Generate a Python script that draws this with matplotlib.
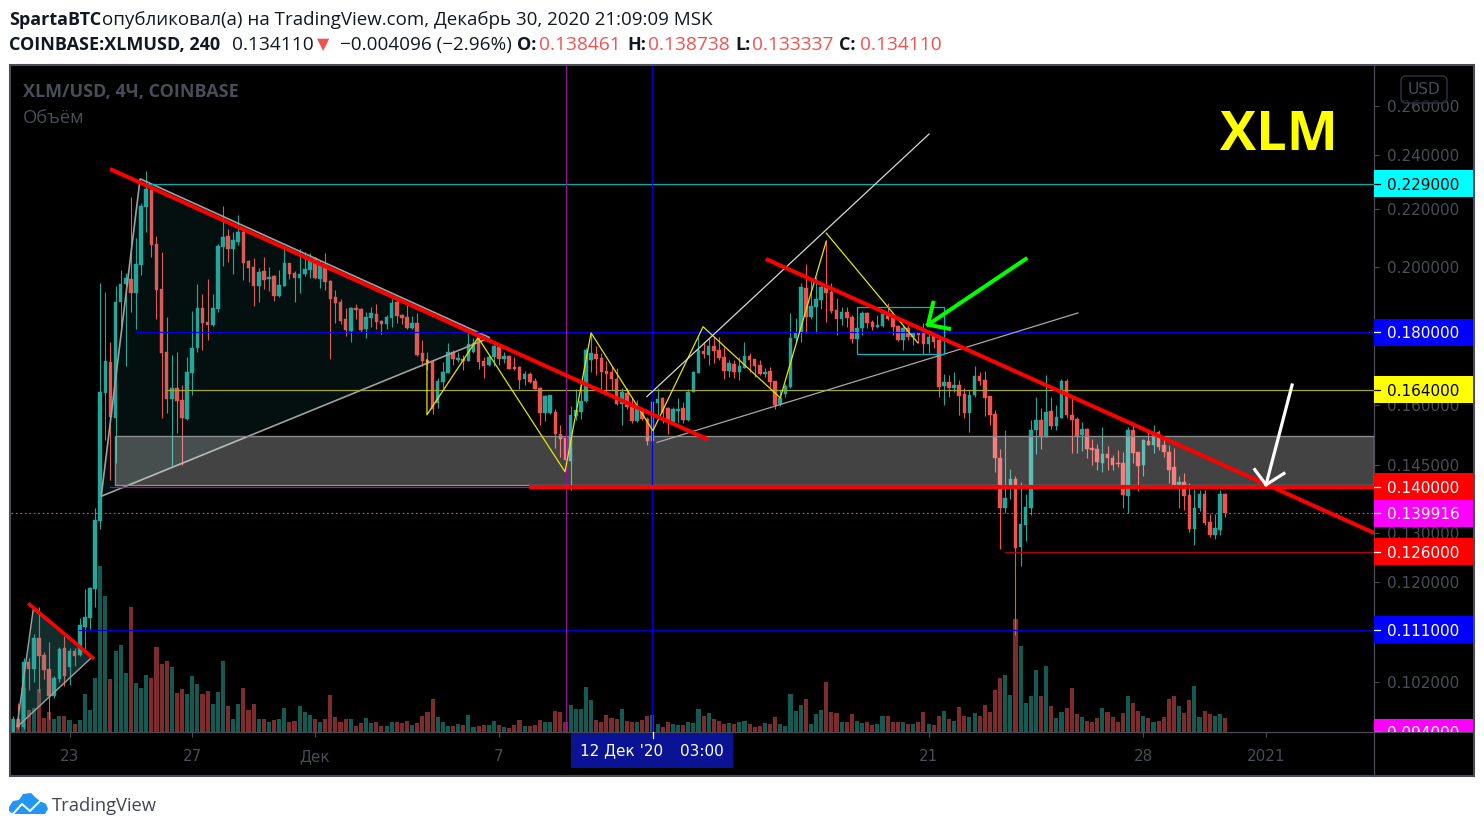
import numpy as np
import matplotlib
matplotlib.use("Agg")
import matplotlib.pyplot as plt
from matplotlib.patches import Rectangle, Polygon, FancyBboxPatch
from matplotlib.lines import Line2D
from matplotlib.ticker import FixedLocator, FixedFormatter, NullLocator, NullFormatter
from matplotlib.transforms import IdentityTransform

# ---------------- data ----------------
opens = [.0938,.0961,.0948,.1054,.1042,.1096,.1066,.1042,.0997,.1025,
.1078,.1045,.1073,.1066,.1116,.1132,.1186,.1324,.1631,.1715,
.1566,.1891,.1946,.1962,.1919,.2008,.2206,.2267,.2077,.1931,
.1744,.1616,.1644,.1613,.1564,.1685,.1755,.1872,.1830,.1822,
.1869,.2067,.2104,.2060,.2083,.2118,.2020,.2001,.1940,.1988,
.1962,.1972,.1909,.1940,.2014,.1981,.1965,.1978,.1991,.2030,
.1962,.2008,.1956,.1906,.1891,.1839,.1804,.1872,.1869,.1810,
.1842,.1854,.1833,.1824,.1842,.1891,.1851,.1845,.1813,.1827,
.1741,.1721,.1718,.1605,.1660,.1685,.1744,.1721,.1724,.1718,
.1744,.1781,.1718,.1707,.1729,.1758,.1724,.1732,.1701,.1701,
.1669,.1682,.1663,.1644,.1579,.1579,.1582,.1526,.1517,.1461,
.1571,.1582,.1610,.1721,.1738,.1727,.1690,.1688,.1669,.1603,
.1631,.1595,.1559,.1587,.1564,.1509,.1605,.1618,.1592,.1556,
.1585,.1592,.1561,.1634,.1685,.1746,.1735,.1761,.1749,.1729,
.1690,.1710,.1688,.1699,.1732,.1724,.1707,.1682,.1690,.1663,
.1603,.1629,.1647,.1784,.1798,.1934,.1845,.1875,.1897,.1940,
.1922,.1866,.1839,.1860,.1845,.1781,.1813,.1857,.1830,.1816,
.1819,.1857,.1842,.1819,.1778,.1813,.1787,.1798,.1798,.1766,
.1792,.1778,.1650,.1660,.1644,.1652,.1629,.1579,.1626,.1677,
.1666,.1623,.1577,.1468,.1352,.1403,.1419,.1269,.1316,.1354,
.1536,.1561,.1519,.1585,.1546,.1566,.1663,.1574,.1564,.1524,
.1539,.1492,.1489,.1456,.1477,.1468,.1456,.1456,.1379,.1536,
.1482,.1451,.1509,.1499,.1531,.1499,.1482,.1445,.1403,.1412,
.1381,.1307,.1352,.1385,.1322,.1296,.1305,.1385]
highs = [.0966,.0986,.1061,.1061,.1103,.1152,.1071,.1089,.1030,.1080,
.1099,.1078,.1078,.1132,.1186,.1190,.1352,.1950,.1922,.1772,
.1940,.1991,.1981,.2242,.2097,.2220,.2338,.2286,.2104,.2050,
.1845,.1735,.1744,.1652,.1729,.1863,.1946,.1916,.1962,.1916,
.2077,.2209,.2128,.2118,.2177,.2135,.2024,.2030,.1997,.2034,
.2001,.1975,.1991,.2060,.2014,.1988,.2060,.2050,.2047,.2034,
.2024,.2047,.1959,.1928,.1900,.1872,.1875,.1885,.1872,.1860,
.1875,.1885,.1836,.1851,.1900,.1900,.1854,.1881,.1848,.1857,
.1778,.1744,.1721,.1671,.1715,.1769,.1749,.1744,.1735,.1798,
.1784,.1787,.1729,.1735,.1766,.1761,.1744,.1735,.1729,.1704,
.1690,.1688,.1671,.1647,.1626,.1626,.1590,.1549,.1519,.1597,
.1642,.1652,.1755,.1798,.1761,.1741,.1718,.1704,.1699,.1644,
.1644,.1621,.1613,.1595,.1569,.1639,.1644,.1621,.1595,.1595,
.1618,.1608,.1642,.1690,.1787,.1772,.1784,.1787,.1787,.1758,
.1721,.1721,.1729,.1772,.1741,.1724,.1721,.1699,.1701,.1663,
.1639,.1655,.1857,.1842,.1950,.2011,.1959,.1969,.1953,.2087,
.1950,.1903,.1875,.1875,.1851,.1830,.1863,.1860,.1836,.1851,
.1857,.1888,.1845,.1822,.1822,.1822,.1801,.1798,.1827,.1801,
.1801,.1787,.1682,.1680,.1688,.1666,.1644,.1639,.1704,.1688,
.1690,.1623,.1587,.1489,.1536,.1442,.1424,.1412,.1385,.1561,
.1621,.1592,.1680,.1621,.1600,.1669,.1669,.1618,.1569,.1556,
.1541,.1514,.1502,.1544,.1497,.1475,.1487,.1482,.1544,.1556,
.1482,.1514,.1536,.1549,.1536,.1521,.1499,.1492,.1424,.1433,
.1410,.1396,.1392,.1392,.1339,.1339,.1394,.1387]
lows = [.0938,.0945,.0945,.1007,.1020,.1004,.1025,.0961,.0994,.1020,
.1014,.1015,.1047,.1064,.1076,.1112,.1152,.1307,.1510,.1415,
.1456,.1813,.1704,.1860,.1810,.1975,.2118,.2034,.1839,.1566,
.1579,.1449,.1529,.1451,.1561,.1626,.1744,.1749,.1778,.1819,
.1860,.2004,.2017,.1978,.2073,.1959,.1953,.1878,.1891,.1931,
.1925,.1894,.1906,.1940,.1962,.1891,.1919,.1972,.1965,.1962,
.1934,.1928,.1724,.1827,.1824,.1790,.1772,.1839,.1801,.1784,
.1816,.1810,.1795,.1810,.1816,.1827,.1824,.1810,.1810,.1732,
.1704,.1693,.1577,.1592,.1644,.1685,.1707,.1715,.1693,.1718,
.1741,.1696,.1671,.1704,.1704,.1707,.1713,.1696,.1693,.1642,
.1652,.1658,.1642,.1549,.1559,.1577,.1492,.1470,.1440,.1394,
.1561,.1564,.1608,.1688,.1680,.1631,.1631,.1639,.1600,.1549,
.1590,.1554,.1556,.1561,.1499,.1499,.1574,.1554,.1526,.1554,
.1554,.1554,.1559,.1634,.1685,.1727,.1707,.1713,.1721,.1669,
.1674,.1671,.1666,.1699,.1688,.1674,.1680,.1674,.1647,.1590,
.1597,.1621,.1644,.1772,.1772,.1798,.1839,.1798,.1869,.1830,
.1857,.1792,.1822,.1816,.1769,.1781,.1792,.1813,.1807,.1813,
.1816,.1836,.1792,.1775,.1749,.1778,.1763,.1769,.1738,.1741,
.1755,.1621,.1600,.1621,.1634,.1574,.1566,.1531,.1621,.1652,
.1571,.1549,.1435,.1265,.1341,.1372,.1101,.1231,.1282,.1337,
.1477,.1489,.1519,.1539,.1536,.1566,.1566,.1480,.1480,.1484,
.1468,.1451,.1440,.1435,.1440,.1440,.1447,.1354,.1343,.1456,
.1390,.1424,.1499,.1480,.1487,.1470,.1410,.1403,.1352,.1348,
.1301,.1274,.1346,.1316,.1290,.1286,.1296,.1333]
closes = [.0961,.0948,.1054,.1042,.1096,.1064,.1040,.0997,.1027,.1076,
.1030,.1073,.1064,.1119,.1134,.1188,.1326,.1634,.1718,.1569,
.1891,.1946,.1965,.1919,.2011,.2209,.2271,.2073,.1928,.1741,
.1616,.1644,.1610,.1566,.1688,.1755,.1872,.1827,.1822,.1872,
.2070,.2100,.2060,.2090,.2118,.2014,.1997,.1940,.1984,.1959,
.1969,.1909,.1943,.2014,.1978,.1965,.1978,.1994,.2024,.1965,
.2008,.1953,.1900,.1888,.1833,.1807,.1872,.1866,.1807,.1845,
.1857,.1830,.1824,.1845,.1888,.1848,.1842,.1813,.1827,.1735,
.1718,.1715,.1590,.1663,.1688,.1744,.1724,.1727,.1718,.1766,
.1769,.1715,.1704,.1729,.1761,.1724,.1732,.1696,.1696,.1666,
.1682,.1660,.1642,.1579,.1623,.1626,.1526,.1514,.1463,.1574,
.1587,.1610,.1749,.1741,.1724,.1688,.1682,.1669,.1603,.1634,
.1595,.1559,.1592,.1564,.1509,.1608,.1616,.1579,.1556,.1590,
.1590,.1561,.1634,.1688,.1749,.1738,.1761,.1746,.1727,.1690,
.1713,.1688,.1704,.1732,.1721,.1704,.1682,.1688,.1660,.1600,
.1618,.1650,.1784,.1798,.1937,.1845,.1878,.1900,.1937,.1919,
.1863,.1839,.1860,.1842,.1781,.1813,.1857,.1827,.1816,.1822,
.1854,.1839,.1816,.1778,.1813,.1787,.1798,.1792,.1766,.1787,
.1772,.1647,.1660,.1644,.1652,.1623,.1579,.1626,.1677,.1663,
.1618,.1574,.1468,.1354,.1376,.1419,.1267,.1318,.1356,.1536,
.1561,.1519,.1582,.1546,.1569,.1663,.1574,.1561,.1521,.1539,
.1489,.1487,.1458,.1477,.1468,.1451,.1454,.1381,.1536,.1480,
.1449,.1512,.1499,.1526,.1494,.1482,.1440,.1403,.1412,.1379,
.1307,.1354,.1383,.1320,.1296,.1309,.1385,.1341]
volumes = [1.3,1.3,4.4,2.2,2.4,4.3,1.4,2.0,1.3,1.6,
1.6,1.2,.8,1.2,3.8,2.2,5.4,16.6,13.6,5.3,
8.1,8.7,5.9,12.5,4.9,4.4,5.7,5.4,8.5,6.8,
7.1,6.5,3.9,4.3,3.8,5.6,4.8,3.8,4.1,2.8,
4.0,7.1,2.6,1.3,2.8,4.4,2.2,2.8,1.3,1.3,
1.0,1.2,1.3,2.4,1.0,1.1,2.6,2.0,1.7,1.3,
1.0,1.3,3.7,1.5,1.0,1.3,1.3,.6,.9,1.4,
.9,1.0,.6,.6,1.0,1.0,.9,1.1,.7,.9,
1.6,2.0,3.3,1.5,1.0,.6,.6,.8,.7,1.7,
.5,.6,.7,.7,1.1,.7,.5,.4,.7,1.2,
.6,.6,.7,1.2,1.0,1.0,2.1,2.0,1.0,2.7,
2.3,2.3,4.5,3.2,1.2,1.0,1.7,1.4,1.3,2.3,
1.1,1.0,1.0,1.2,1.6,1.7,.8,.5,1.0,.8,
.7,.7,1.0,.9,2.3,1.6,1.9,1.3,1.1,.8,
.9,.8,1.0,1.1,.8,.5,.6,.9,.8,1.5,
.8,.6,3.8,2.1,2.7,3.3,.8,1.8,2.2,5.0,
2.0,1.9,1.0,1.0,1.8,1.1,.9,1.0,.7,.8,
1.6,1.6,1.0,1.0,1.0,.8,.8,1.0,2.0,.8,
.7,1.6,2.1,1.3,1.1,2.5,1.6,1.5,1.9,1.6,
2.7,2.0,4.2,5.4,5.7,3.7,11.3,8.6,2.9,3.6,
6.2,3.6,6.6,2.6,1.4,2.0,2.4,4.4,1.8,1.5,
1.1,1.0,1.4,2.4,2.0,1.5,1.0,1.9,3.6,2.9,
2.1,1.6,1.4,1.0,1.1,1.5,3.3,3.6,2.6,1.9,
3.2,4.6,1.5,2.1,1.8,1.6,1.8,1.4]

y_tick_values = [.26,.24,.22,.20,.16,.145,.13,.12,.102]
y_tick_labels = ["0.260000","0.240000","0.220000","0.200000","0.160000","0.145000","0.130000","0.120000","0.102000"]
x_tick_bars = [11,35,59,95,137,179,221,245]
x_tick_labels = ["23","27","Дек","7","14","21","28","2021"]

label_prices = [.229,.18,.164,.14,.13411,.126,.111,.094]
label_texts = ["0.229000","0.180000","0.164000","0.140000","0.139916","0.126000","0.111000","0.094000"]
label_fills = ["#00ffff","#0000ff","#ffff00","#ff0000","#ff00ff","#ff0000","#0000ff","#ff00ff"]
label_inks = ["#000000","#ffffff","#000000","#ffffff","#ffffff","#ffffff","#ffffff","#ffffff"]

level_prices = [.229,.18,.164,.14,.126,.111]
level_starts = [25.8,23.8,29.9,18.9,194,12.9]
level_colors = ["#00b0b0","#0000d8","#a5a52a","#a010a0","#b80000","#0000d0"]
last_price = .13411
support_price = .14
support_start = 100.9
crosshair_bars = [108,125]

range_box_x = [19.9,266.2]
range_box_y = [.1405,.1521]
big_tri_x = [24.8,17.2,93.2]
big_tri_y = [.2309,.1379,.1784]
small_tri_x = [3.9,.7,15.4]
small_tri_y = [.1148,.0948,.1062]
trend1_x = [18.9,135.9]
trend1_y = [.2346,.1512]
trend2_x = [147.2,266.2]
trend2_y = [.2027,.1299]
trend3_x = [2.9,15.8]
trend3_y = [.1159,.1059]
zig1_x = [80.9,80.9,90.9,107.9,113,125.1,134.9,150,159]
zig1_y = [.1721,.1574,.1784,.1435,.1798,.1534,.1816,.1618,.2087]
zig2_x = [159,176.9]
zig2_y = [.2114,.1769]
chan_up_x = [123.9,179.1]
chan_up_y = [.1621,.2483]
chan_low_x = [125.9,208.2]
chan_low_y = [.1505,.1857]
cyan_box_x = [165,182]
cyan_box_y = [.1738,.1875]
white_arrow_x = [250.1,245]
white_arrow_y = [.1652,.1405]
white_head_x = [242.8,245,248.5]
white_head_y = [.1440,.1405,.1431]
green_arrow_x = [198,178.9]
green_arrow_y = [.2027,.1822]
green_head_x = [179.9,178.9,183]
green_head_y = [.1888,.1822,.1810]

# ---------------- layout ----------------
W, H = 1484, 831
L, R, T, B = 11, 1374, 66, 732
fx = lambda x: x / W
fy = lambda y: 1 - y / H
GRAY = "#4a4c57"
UP, DOWN = "#26a69a", "#ef5350"
VUP, VDOWN = "#145a52", "#7c2c2c"
plt.rcParams["font.family"] = ["DejaVu Sans"]

fig = plt.figure(figsize=(W / 100, H / 100), dpi=100, facecolor="white")
fig.add_artist(Rectangle((fx(10), fy(776)), fx(1464), (776 - 65) / H, transform=fig.transFigure,
                         fc="black", ec=GRAY, lw=1.5, zorder=-1))
rect = [fx(L), fy(B), (R - L) / W, (B - T) / H]
ax_vol = fig.add_axes(rect, zorder=1, facecolor="black")
ax = fig.add_axes(rect, zorder=2, facecolor="none")

bars = np.arange(len(opens))
o, h, l, c = map(np.array, (opens, highs, lows, closes))
rising = c >= o
xlim = (-0.45, 266.12)

# volume pane
ax_vol.bar(bars, volumes, width=0.8, color=np.where(rising, VUP, VDOWN), linewidth=0)
ax_vol.set_xlim(*xlim)
ax_vol.set_ylim(0, 66.6)
ax_vol.axis("off")

# candles
ax.set_yscale("log")
col = np.where(rising, UP, DOWN)
wicks = ax.vlines(bars, l, h, colors=col, lw=0.8, zorder=3)
wicks.set_snap(True)
ax.bar(bars, np.abs(c - o), bottom=np.minimum(o, c), width=0.7, color=col,
       edgecolor=col, linewidth=0.3, zorder=3.1)

ax.set_xlim(*xlim)
ax.set_ylim(.09405, .2773)
ax.yaxis.tick_right()
ax.yaxis.set_major_locator(FixedLocator(y_tick_values))
ax.yaxis.set_major_formatter(FixedFormatter(y_tick_labels))
ax.yaxis.set_minor_locator(NullLocator())
ax.yaxis.set_minor_formatter(NullFormatter())
ax.set_xticks(x_tick_bars, x_tick_labels)
ax.tick_params(axis="y", length=3.6, width=0.8, color=GRAY, labelcolor=GRAY, labelsize=11, pad=5.5)
ax.tick_params(axis="x", length=3.6, width=0.8, color=GRAY, labelcolor=GRAY, labelsize=11, pad=8.8)
for s in ("top", "left"):
    ax.spines[s].set_visible(False)
for s in ("right", "bottom"):
    ax.spines[s].set_color(GRAY)
    ax.spines[s].set_linewidth(0.9)
tr_y = ax.get_yaxis_transform()
ax.plot([1, 1], [-44 / (B - T), 0], transform=ax.transAxes, color=GRAY, lw=0.9, clip_on=False)
ax.plot([1, 1 + 98 / (R - L)], [0, 0], transform=ax.transAxes, color=GRAY, lw=0.9, clip_on=False)

# drawings over the candles
ax.add_patch(Polygon(np.c_[big_tri_x, big_tri_y], closed=True, fc=UP, alpha=0.1, ec="none", zorder=3.5))
ax.add_patch(Polygon(np.c_[big_tri_x, big_tri_y], closed=True, fc="none", ec="#a0a0a0", lw=1.2, zorder=3.6))
ax.add_patch(Polygon(np.c_[small_tri_x, small_tri_y], closed=True, fc="#3fa8a0", alpha=0.28, ec="none", zorder=3.5))
ax.add_patch(Polygon(np.c_[small_tri_x, small_tri_y], closed=True, fc="none", ec="#a0a0a0", lw=1.0, zorder=3.6))
ax.add_patch(Rectangle((range_box_x[0], range_box_y[0]), range_box_x[1] - range_box_x[0],
                       range_box_y[1] - range_box_y[0], fc="white", alpha=0.265, ec="none", zorder=3.7))
ax.add_patch(Rectangle((range_box_x[0], range_box_y[0]), range_box_x[1] - range_box_x[0],
                       range_box_y[1] - range_box_y[0], fc="none", ec="#8c8c8c", lw=1.0, zorder=3.7))
ax.plot(list(xlim), [last_price, last_price], color=DOWN, lw=0.8, ls=(0, (1.5, 2.5)), zorder=3.8)
for p, s, k in zip(level_prices, level_starts, level_colors):
    ax.plot([s, xlim[1]], [p, p], color=k, lw=0.9, zorder=3.9)
for b, k in zip(crosshair_bars, ["#9a109a", "#0000d8"]):
    ax.axvline(b, color=k, lw=0.8, zorder=3.9)
ax.plot(zig1_x, zig1_y, color="#e6e600", lw=0.9, zorder=4)
ax.plot(zig2_x, zig2_y, color="#e6e600", lw=0.9, zorder=4)
ax.plot(chan_up_x, chan_up_y, color="#d8d8d8", lw=0.9, zorder=4)
ax.plot(chan_low_x, chan_low_y, color="#a8a8a8", lw=0.9, zorder=4)
ax.add_patch(Rectangle((cyan_box_x[0], cyan_box_y[0]), cyan_box_x[1] - cyan_box_x[0],
                       cyan_box_y[1] - cyan_box_y[0], fc="none", ec="#00b8c4", lw=0.9, zorder=4))
RED = "#ff0000"
ax.plot(trend1_x, trend1_y, color=RED, lw=2.9, zorder=4.2, solid_capstyle="butt")
ax.plot(trend2_x, trend2_y, color=RED, lw=2.9, zorder=4.2, solid_capstyle="butt")
ax.plot(trend3_x, trend3_y, color=RED, lw=2.6, zorder=4.2, solid_capstyle="butt")
ax.plot([support_start, xlim[1]], [support_price, support_price], color=RED, lw=2.9, zorder=4.2, solid_capstyle="butt")
ax.plot(white_arrow_x, white_arrow_y, color="white", lw=2.3, zorder=4.4)
ax.plot(white_head_x, white_head_y, color="white", lw=2.3, zorder=4.4)
ax.plot(green_arrow_x, green_arrow_y, color="#00ff00", lw=2.9, zorder=4.4)
ax.plot(green_head_x, green_head_y, color="#00ff00", lw=2.9, zorder=4.4)

# coloured price labels
half = 13.5 / 616
label_w = 99 / (R - L)
clip = Rectangle((1, 0), 0.1, 1, transform=ax.transAxes)
for p, t, f, k in zip(label_prices, label_texts, label_fills, label_inks):
    box = Rectangle((1, p * np.exp(-half)), label_w, p * np.exp(half) - p * np.exp(-half),
                    transform=tr_y, fc=f, ec="none", zorder=5)
    ax.add_patch(box)
    box.set_clip_path(clip)
    tx = ax.text(1 + 13.5 / (R - L), p, t, transform=tr_y, color=k, fontsize=11, va="center_baseline",
                 ha="left", zorder=5.5, clip_on=True)
    tx.set_clip_path(clip)
    mark, = ax.plot([1, 1 + 6 / (R - L)], [p, p], transform=tr_y, color=k, lw=0.9, zorder=5.5)
    mark.set_clip_path(clip)

# crosshair date label
fig.add_artist(Rectangle((fx(571), fy(768)), 162 / W, 35 / H, transform=fig.transFigure,
                         fc="#0a149a", ec="none", alpha=0.96, zorder=10))
fig.add_artist(Line2D([fx(653), fx(653)], [fy(732), fy(738)], transform=fig.transFigure, color="white", lw=0.9, zorder=11))
fig.text(fx(580), fy(751), "12 Дек '20", color="white", fontsize=11, va="center", ha="left", zorder=11)
fig.text(fx(680), fy(751), "03:00", color="white", fontsize=11, va="center", ha="left", zorder=11)

# currency badge
fig.add_artist(FancyBboxPatch((1401, H - 103), 46, 27, boxstyle="round,pad=0,rounding_size=5",
                              transform=IdentityTransform(), fc=(0, 0, 0, 0.55), ec="#33353e", lw=1, zorder=10))
fig.text(fx(1424), fy(89), "USD", color=GRAY, fontsize=11, va="center", ha="center", zorder=11)

# heading
OS = "Open Sans"
def put(x, y, s, color="#131722", weight="normal", size=13.6, family=OS):
    fig.text(fx(x), fy(y), s, color=color, fontweight=weight, fontsize=size, family=family,
             va="center_baseline", ha="left", zorder=11)

BOLD = 13.0
put(9, 18, "SpartaBTC", weight="bold", size=BOLD)
put(102, 18, "опубликовал(а) на TradingView.com, Декабрь 30, 2020 21:09:09 MSK", size=13.5)
put(9, 43, "COINBASE:XLMUSD, 240", weight="bold", size=BOLD)
put(232, 43, "0.134110", size=13.8)
put(317, 43, "▼", color=DOWN, size=11.5, family="DejaVu Sans")
put(340, 43, "−0.004096 (−2.96%)")
for x1, lab, x2, val in zip([517, 627, 735, 839], ["O:", "H:", "L:", "C:"], [539, 648, 752, 860],
                            ["0.138461", "0.138738", "0.133337", "0.134110"]):
    put(x1, 43, lab, weight="bold", size=BOLD)
    put(x2, 43, val, color=DOWN, size=13.8)

put(23, 90, "XLM/USD, 4Ч, COINBASE", color=GRAY, weight="bold", size=13.0)
put(23, 116, "Объём", color=GRAY, size=13.2)
put(1220, 130, "XLM", color="#ffff00", weight="bold", size=39)

# footer logo
LOGO = "#2196f3"
cloud = [(9, 807), (13, 801), (19, 800), (23, 794), (31, 793), (36, 798), (40, 801), (46, 804), (48, 809),
         (45, 814), (13, 814), (9, 811)]
fig.add_artist(Polygon([(fx(a), fy(b)) for a, b in cloud], closed=True, transform=fig.transFigure, fc=LOGO, ec="none", zorder=10))
zz = [(12, 815), (22, 804), (30, 811), (40, 801)]
fig.add_artist(Line2D([fx(a) for a, b in zz], [fy(b) for a, b in zz], transform=fig.transFigure, color="white", lw=1.4, zorder=11))
put(52, 804, "TradingView", color="#434651", size=13.2)

fig.savefig("out.png", dpi=100, facecolor="white")
